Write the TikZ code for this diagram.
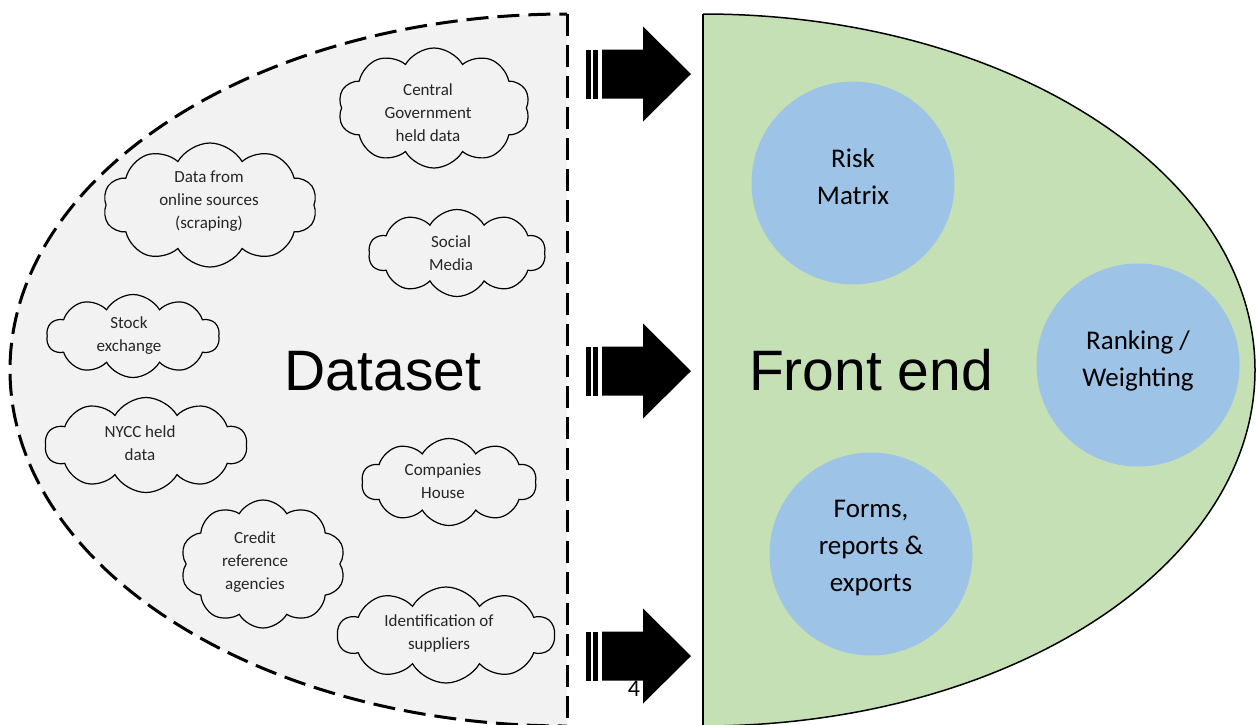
\documentclass[tikz,border=0pt]{standalone}
\usepackage{fontspec}
\setmainfont{Carlito}
\newfontfamily\arialfont{Liberation Sans}
\usetikzlibrary{shapes.symbols, positioning}

\definecolor{datagray}{HTML}{F2F2F2}
\definecolor{frontgreen}{HTML}{C5E0B4}
\definecolor{modblue}{HTML}{9DC3E6}

\begin{document}
\begin{tikzpicture}[
  x=1pt, y=-1pt,
  every node/.style={font=\fontsize{17}{23}\selectfont},
  source/.style={cloud, cloud puffs=10, cloud puff arc=120, cloud ignores aspect, draw, line width=1.2pt, fill=datagray, inner sep=0pt},
  srctext/.style={align=center, text=black!85},
  module/.style={circle, fill=modblue, minimum size=203pt, inner sep=0pt},
  modtext/.style={align=center, font=\fontsize{27}{37}\selectfont},
  title/.style={anchor=base, font=\arialfont\fontsize{57}{60}\selectfont},
  border/.style={line width=3pt, dash pattern=on 22pt off 9pt},
]
  \useasboundingbox (0,0) rectangle (1257,724);

  % Dataset half
  \begin{scope}
    \clip (0,0) rectangle (567,724);
    \draw[border, fill=datagray] (567,370) ellipse [x radius=557, y radius=356];
  \end{scope}
  \draw[border] (567,14) -- (567,726);

  % Front end half
  \begin{scope}
    \clip (703,0) rectangle (1257,724);
    \draw[line width=1.5pt, fill=frontgreen] (703,370) ellipse [x radius=552, y radius=356];
  \end{scope}
  \draw[line width=1.5pt] (703,14) -- (703,726);

  % Striped arrows
  \foreach \y in {74,371,656}{
    \fill (602,\y-24.5) -- (643,\y-24.5) -- (643,\y-47.5) -- (691,\y)
      -- (643,\y+47.5) -- (643,\y+24.5) -- (602,\y+24.5) -- cycle;
    \fill (586,\y-24.5) rectangle (590.5,\y+24.5);
    \fill (592.5,\y-24.5) rectangle (597.5,\y+24.5);
  }

  % Titles
  \node[title] (dataset) at (383,390) {Dataset};
  \node[title] (frontend) at (871,390) {Front end};

  % Data sources
  \node[source, minimum width=192pt, minimum height=120pt] (central) at (434,108) {};
  \node[source, minimum width=214pt, minimum height=124pt] (online) at (210,205) {};
  \node[source, minimum width=177pt, minimum height=87pt] (social) at (457,253) {};
  \node[source, minimum width=173pt, minimum height=83pt] (stock) at (133,336) {};
  \node[source, minimum width=202pt, minimum height=95pt] (nycc) at (146,445) {};
  \node[source, minimum width=175pt, minimum height=87pt] (companies) at (449,482) {};
  \node[source, minimum width=165pt, minimum height=128pt] (credit) at (263,564) {};
  \node[source, minimum width=217pt, minimum height=96pt] (suppliers) at (446,635) {};

  \node[srctext] (central-t) at (428,113) {Central\\Government\\held data};
  \node[srctext] (online-t) at (209,201) {Data from\\online sources\\(scraping)};
  \node[srctext] (social-t) at (451,253) {Social\\Media};
  \node[srctext] (stock-t) at (129,336) {Stock\\exchange};
  \node[srctext] (nycc-t) at (140,443) {NYCC held\\data};
  \node[srctext] (companies-t) at (443,481) {Companies\\House};
  \node[srctext] (credit-t) at (255,562) {Credit\\reference\\agencies};
  \node[srctext] (suppliers-t) at (439,633) {Identification of\\suppliers};

  % Front end modules
  \node[module] (risk) at (853,183) {};
  \node[module] (rank) at (1138,365) {};
  \node[module] (forms) at (871,554) {};

  \node[modtext] (risk-t) at (853,177) {Risk\\Matrix};
  \node[modtext] (rank-t) at (1138,361) {Ranking /\\Weighting};
  \node[modtext] (forms-t) at (871,548) {Forms,\\reports \&\\exports};

  % Page number
  \node[font=\fontsize{24}{24}\selectfont] (page) at (634,689) {4};
\end{tikzpicture}
\end{document}
